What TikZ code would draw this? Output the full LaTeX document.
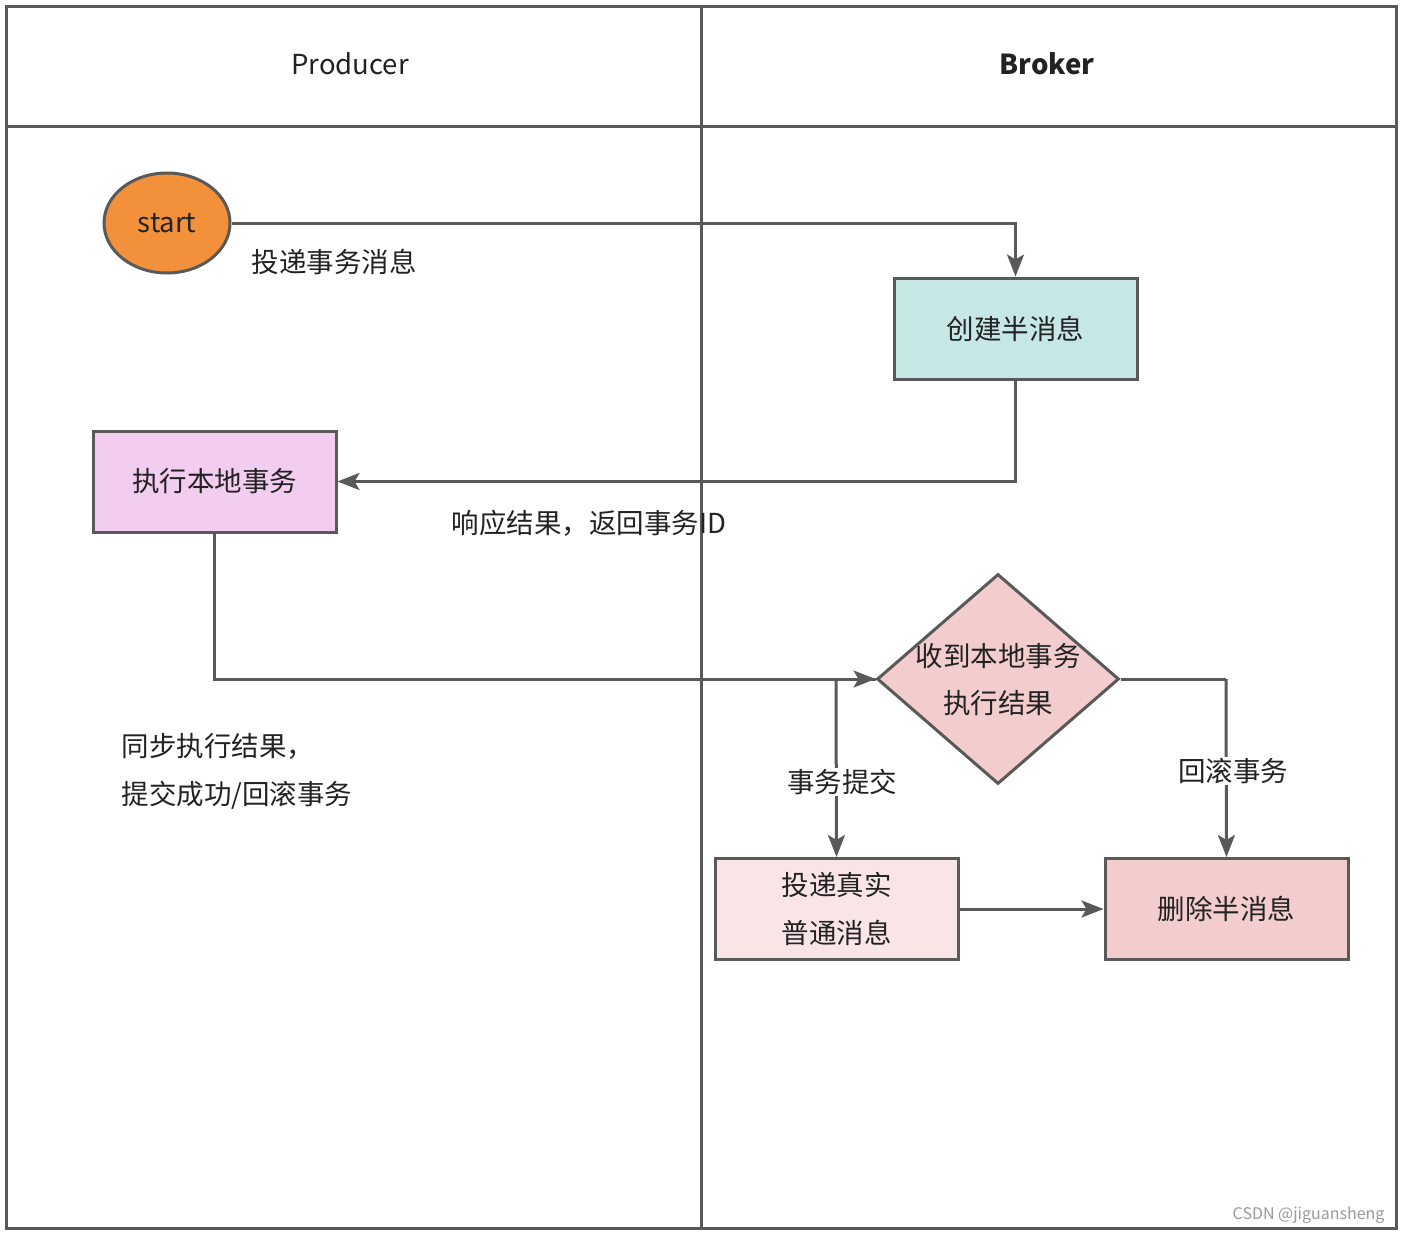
\documentclass[tikz,border=0pt]{standalone}
\usepackage{fontspec}
\setmainfont{Noto Sans CJK SC}
\usetikzlibrary{shapes.geometric,arrows.meta}
\definecolor{ln}{HTML}{595959}
\definecolor{orng}{HTML}{F2913A}
\definecolor{teal1}{HTML}{C5E7E6}
\definecolor{pink1}{HTML}{F2CDEF}
\definecolor{rose1}{HTML}{F3CCCD}
\definecolor{rose2}{HTML}{FAE5E6}
\definecolor{txt}{HTML}{222222}
\tikzset{
  every node/.style={text=txt,font=\fontsize{27.5}{33}\selectfont},
  frame/.style={draw=ln,line width=3pt},
  box/.style={draw=ln,line width=3pt,minimum width=243pt,minimum height=101pt,inner sep=0pt,align=center},
  conn/.style={draw=ln,line width=3pt,-{Stealth[length=22pt,width=17pt,inset=5pt]}},
  plain/.style={draw=ln,line width=3pt},
  lbl/.style={fill=white,inner sep=1pt},
}
\begin{document}
\begin{tikzpicture}[x=1pt,y=1pt]
\useasboundingbox (0,0) rectangle (1403,-1234);
% swimlanes
\draw[frame] (6,-6) rectangle (1396,-1228);
\draw[frame] (6,-126) -- (1396,-126);
\draw[frame] (701,-6) -- (701,-1228);
\node (hp) at (350,-64) {Producer};
\node (hb) at (1047,-64) {\bfseries Broker};
% nodes
\node[ellipse,draw=ln,line width=3pt,fill=orng,minimum width=126pt,minimum height=100pt,inner sep=0pt] (start) at (167,-223) {start};
\node[box,fill=teal1] (half) at (1015.5,-328.5) {创建半消息};
\node[box,fill=pink1] (local) at (214.5,-481.5) {执行本地事务};
\node[diamond,draw=ln,line width=3pt,fill=rose1,minimum width=242pt,minimum height=210pt,inner sep=0pt,aspect=1.15] (dec) at (998,-679) {};
\node (dec1) at (998,-656) {收到本地事务};
\node (dec2) at (998,-703) {执行结果};
\node[box,fill=rose2] (real) at (836.5,-909) {投递真实\\[15pt]普通消息};
\node[box,fill=rose1] (del) at (1226.5,-909) {删除半消息};
% connectors
\draw[conn] (start.east) -| (half.north);
\node[anchor=west] (l1) at (248,-262) {投递事务消息};
\draw[conn] (half.south) |- (local.east);
\node[anchor=west] (l2) at (448,-523) {响应结果，返回事务ID};
\draw[conn] (local.south) |- (dec.west);
\node[anchor=west,align=left] (l3) at (118,-771) {同步执行结果，\\[15pt]提交成功/回滚事务};
\coordinate (jl) at (836,-679);
\coordinate (jr) at (1226,-679);
\draw[plain] (dec.west) -- (jl);
\draw[conn] (jl) -- (real.north);
\node[lbl] (l4) at (842,-782) {事务提交};
\draw[plain] (dec.east) -- (jr);
\draw[conn] (jr) -- (del.north);
\node[lbl] (l5) at (1233,-771) {回滚事务};
\draw[conn] (real.east) -- (del.west);
% watermark
\node[anchor=east,text=gray!80,font=\fontsize{16}{19}\selectfont] (wm) at (1388,-1215) {CSDN @jiguansheng};
\end{tikzpicture}
\end{document}
